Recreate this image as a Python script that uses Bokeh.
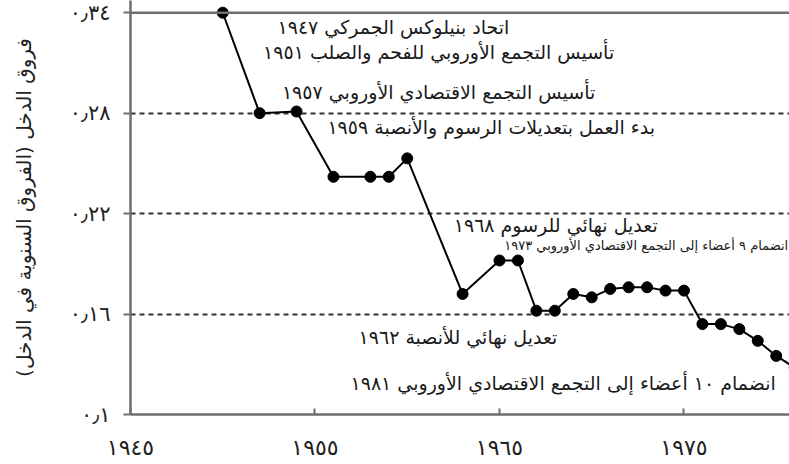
from bokeh.plotting import figure
from bokeh.models import Range1d, FixedTicker, Span, Label
from bokeh.embed import file_html
from bokeh.resources import INLINE

# ---- data ----
years = [1950, 1952, 1954, 1956, 1958, 1959, 1960, 1963, 1965, 1966, 1967, 1968,
         1969, 1970, 1971, 1972, 1973, 1974, 1975, 1976, 1977, 1978, 1979, 1980, 1981]
income_diff = [0.340, 0.280, 0.281, 0.242, 0.242, 0.242, 0.253, 0.172, 0.192, 0.192, 0.162, 0.162,
               0.172, 0.170, 0.175, 0.176, 0.176, 0.174, 0.174, 0.154, 0.154, 0.151, 0.144, 0.135, 0.128]

x_ticks = [1945, 1955, 1965, 1975]
x_tick_labels = ["١٩٤٥", "١٩٥٥", "١٩٦٥", "١٩٧٥"]
y_ticks = [0.1, 0.16, 0.22, 0.28, 0.34]
y_tick_labels = ["٠٫١", "٠٫١٦", "٠٫٢٢", "٠٫٢٨", "٠٫٣٤"]
grid_levels = [0.16, 0.22, 0.28]

events = [
    "اتحاد بنيلوكس الجمركي ١٩٤٧",
    "تأسيس التجمع الأوروبي للفحم والصلب ١٩٥١",
    "تأسيس التجمع الاقتصادي الأوروبي ١٩٥٧",
    "بدء العمل بتعديلات الرسوم والأنصبة ١٩٥٩",
    "تعديل نهائي للرسوم ١٩٦٨",
    "انضمام ٩ أعضاء إلى التجمع الاقتصادي الأوروبي ١٩٧٣",
    "تعديل نهائي للأنصبة ١٩٦٢",
    "انضمام ١٠ أعضاء إلى التجمع الاقتصادي الأوروبي ١٩٨١",
]
y_title = "فروق الدخل (الفروق السنوية في الدخل)\u200f"

# ---- layout of the event notes (data coords), kept apart from the data ----
event_layout = [
    # (x, y, align, font size)
    (1959.25, 0.3312, "center", "19px"),
    (1961.70, 0.3163, "center", "19px"),
    (1961.70, 0.2924, "center", "19px"),
    (1964.55, 0.2715, "center", "19px"),
    (1968.05, 0.2129, "center", "19px"),
    (1980.65, 0.2010, "right", "13px"),
    (1962.75, 0.1460, "center", "19px"),
    (1968.45, 0.1186, "center", "19px"),
]

FONT = "DejaVu Sans"
AXIS_GREY = "#6e6e6e"

p = figure(width=789, height=464, output_backend="svg", toolbar_location=None,
           x_range=Range1d(1945, 1980.72), y_range=Range1d(0.1, 0.3473),
           min_border_left=130, min_border_right=0, min_border_top=0, min_border_bottom=50)
p.outline_line_color = None
p.background_fill_color = "white"
p.border_fill_color = "white"

# grid
p.xgrid.visible = False
p.ygrid.ticker = FixedTicker(ticks=grid_levels)
p.ygrid.grid_line_color = "#333333"
p.ygrid.grid_line_dash = "5 4"
p.ygrid.grid_line_width = 2

top_line = Span(location=y_ticks[-1], dimension="width", line_color=AXIS_GREY, line_width=2.5)
p.add_layout(top_line)

# axes
p.xaxis.ticker = FixedTicker(ticks=x_ticks)
p.xaxis.major_label_overrides = {t: l for t, l in zip(x_ticks, x_tick_labels)}
p.xaxis.major_tick_in = 6
p.xaxis.major_tick_out = 0
p.xaxis.minor_tick_line_color = None
p.xaxis.axis_line_color = AXIS_GREY
p.xaxis.axis_line_width = 2.5
p.xaxis.major_tick_line_color = AXIS_GREY
p.xaxis.major_tick_line_width = 2
p.xaxis.major_label_text_font = FONT
p.xaxis.major_label_text_font_size = "22px"
p.xaxis.major_label_text_color = "#222222"
p.xaxis.major_label_standoff = 20

p.yaxis.ticker = FixedTicker(ticks=y_ticks)
p.yaxis.major_label_overrides = {t: l for t, l in zip(y_ticks, y_tick_labels)}
p.yaxis.major_tick_in = 0
p.yaxis.major_tick_out = 7
p.yaxis.minor_tick_line_color = None
p.yaxis.axis_line_color = AXIS_GREY
p.yaxis.axis_line_width = 2.5
p.yaxis.major_tick_line_color = AXIS_GREY
p.yaxis.major_tick_line_width = 2
p.yaxis.major_label_text_font = FONT
p.yaxis.major_label_text_font_size = "21px"
p.yaxis.major_label_text_color = "#222222"
p.yaxis.major_label_standoff = 13
p.yaxis.axis_label = y_title
p.yaxis.axis_label_text_font = FONT
p.yaxis.axis_label_text_font_size = "20px"
p.yaxis.axis_label_text_font_style = "normal"
p.yaxis.axis_label_text_color = "#222222"
p.yaxis.axis_label_standoff = 31

# series
p.line(years, income_diff, line_color="black", line_width=2)
p.scatter(years, income_diff, marker="circle", size=11, fill_color="black", line_color="black")

# event notes
for text, (x, y, align, size) in zip(events, event_layout):
    p.add_layout(Label(x=x, y=y, text=text, text_align=align, text_baseline="middle",
                       text_font=FONT, text_font_size=size, text_color="#1a1a1a"))

open("out.html", "w").write(file_html(p, INLINE))
